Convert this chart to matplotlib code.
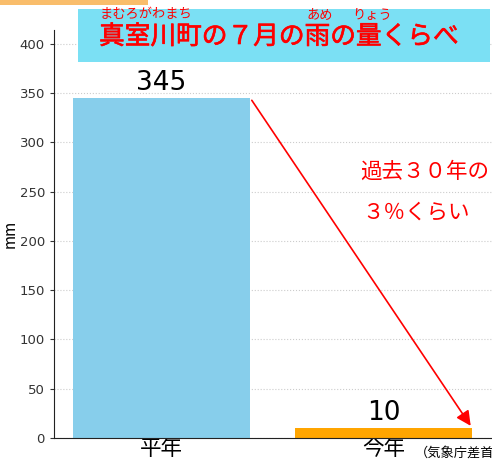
import matplotlib
matplotlib.use("Agg")
import matplotlib.pyplot as plt
from matplotlib.patches import Rectangle
import matplotlib.patheffects as pe

plt.rcParams['font.family'] = ['Noto Sans CJK JP', 'DejaVu Sans']

categories = ["平年", "今年"]
values = [345, 10]
bar_colors = ["#87CEEB", "#FFA500"]
yticks = [0, 50, 100, 150, 200, 250, 300, 350, 400]
title = "真室川町の７月の雨の量くらべ"
note_lines = ["過去３０年の", "３％くらい"]
source = "（気象庁差首"

fig = plt.figure(figsize=(4.92, 4.59), dpi=100)
fig.patch.set_facecolor("white")

ax = fig.add_axes([54/492, 21/459, 1 - 54/492, (438-30)/459])
x = list(range(len(categories)))
ax.bar(x, values, width=0.8, color=bar_colors, zorder=2)
ax.set_xlim(-0.484, 1.489)
ax.set_ylim(0, 414)
ax.set_yticks(yticks)
ax.set_yticklabels([str(t) for t in yticks], fontsize=9.5, color="#333333", family="DejaVu Sans")
ax.set_xticks(x)
ax.set_xticklabels(categories, fontsize=15.5)
ax.tick_params(axis='x', length=0, pad=0)
ax.tick_params(axis='y', length=3, color="#333333")
ax.yaxis.grid(True, linestyle=":", color="#cccccc", linewidth=0.8, zorder=0)
ax.set_axisbelow(True)
for s in ["top", "right"]:
    ax.spines[s].set_visible(False)
ax.spines["left"].set_color("#222222")
ax.spines["bottom"].set_color("#222222")
ax.set_ylabel("mm", fontsize=11)
ax.yaxis.set_label_coords(-35/438, 0.5)

for xi, v in zip(x, values):
    ax.text(xi, v + 2, str(v), ha="center", va="bottom", fontsize=19, family="DejaVu Sans", zorder=3)

ax.annotate("", xy=(x[1] + 0.4, values[1]), xytext=(x[0] + 0.4, values[0]),
            arrowprops=dict(arrowstyle="-|>", color="red", lw=1.2, mutation_scale=22), zorder=4)

fig.text(360/492, 1 - 172/459, note_lines[0], color="red", fontsize=15.5, va="center", ha="left")
fig.text(362/492, 1 - 213/459, note_lines[1], color="red", fontsize=15.5, va="center", ha="left")

ax.text((415 - 161.5) / 222, -0.02, source, fontsize=9.5, ha="left", va="top",
        transform=ax.get_xaxis_transform(), clip_on=False)

# title box
fig.patches.append(Rectangle((78/492, 1 - 62/459), 412/492, 53/459, transform=fig.transFigure,
                             facecolor="#7BE0F4", edgecolor="none", zorder=5))
fig.patches.append(Rectangle((0, 1 - 5/459), 148/492, 5/459, transform=fig.transFigure,
                             facecolor="#F9BD6B", edgecolor="none", zorder=5))
fig.text(99/492, 1 - 37/459, title, color="red", fontsize=18.5, fontweight="normal", va="center", ha="left", zorder=6,
         path_effects=[pe.withStroke(linewidth=0.45, foreground="red")])
fig.text(100/492, 1 - 15/459, "まむろがわまち", color="red", fontsize=9.5, va="center", ha="left", zorder=6)
fig.text(306/492, 1 - 15/459, "あめ", color="red", fontsize=9.5, va="center", ha="left", zorder=6)
fig.text(352/492, 1 - 15/459, "りょう", color="red", fontsize=9.5, va="center", ha="left", zorder=6)

fig.savefig("out.png", dpi=100)
